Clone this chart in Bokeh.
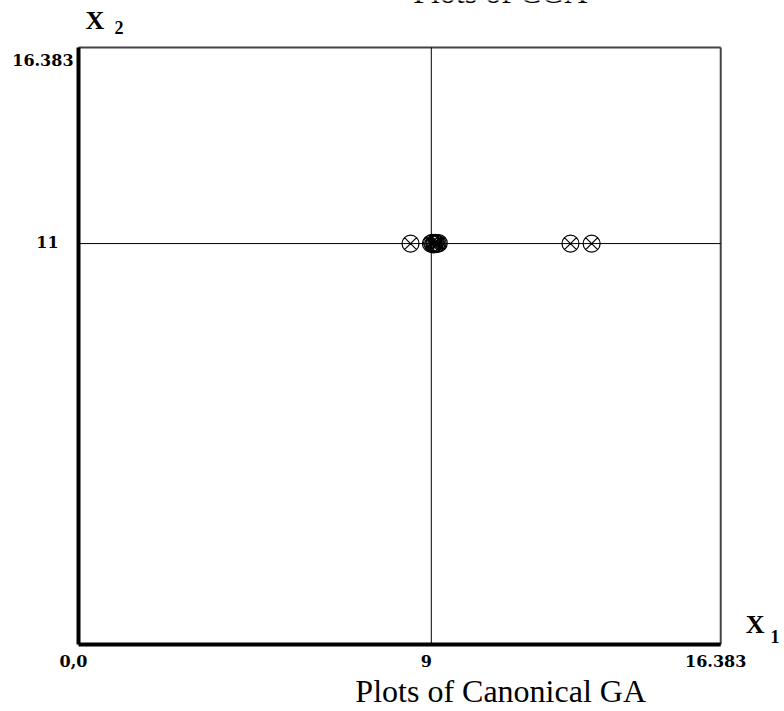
from bokeh.plotting import figure
from bokeh.models import Range1d
from bokeh.core.properties import value
from bokeh.embed import file_html
from bokeh.resources import INLINE

# ---- data ----
x_vals = [8.47, 8.99, 9.02, 9.05, 9.08, 9.10, 9.13, 9.16, 9.19, 12.55, 13.09]
y_vals = [11.0, 11.0, 11.02, 10.98, 11.0, 11.02, 10.99, 11.0, 11.01, 11.0, 11.0]
x_ticks = [0.0, 9.0, 16.383]
x_tick_labels = ["0,0", "9", "16.383"]
y_ticks = [11.0, 16.383]
y_tick_labels = ["11", "16.383"]
cross_x = 9.0
cross_y = 11.0
x_max = 16.383
y_max = 16.383
title_top = "Plots of CGA"
title_bottom = "Plots of Canonical GA"

SERIF = value("Liberation Serif")
TICKFONT = value("DejaVu Serif")

# the frame spans the whole canvas; the plot box is drawn in data space
p = figure(width=784, height=711, output_backend="svg", toolbar_location=None,
           x_range=Range1d(-1.99, 18.01), y_range=Range1d(-1.84, 17.67),
           min_border=0)
p.axis.visible = False
p.grid.visible = False
p.outline_line_color = None
p.background_fill_color = "white"
p.border_fill_color = "white"

# box: thin top and right edges, thick left and bottom axes
p.segment(x0=[0, x_max], y0=[y_max, 0], x1=[x_max, x_max], y1=[y_max, y_max],
          line_color="#444444", line_width=2)
p.segment(x0=[0, 0], y0=[0, 0], x1=[0, x_max], y1=[y_max, 0],
          line_color="black", line_width=4)

# crosshair
p.segment(x0=[cross_x, 0], y0=[0, cross_y], x1=[cross_x, x_max], y1=[y_max, cross_y],
          line_color="black", line_width=1)

# points
p.scatter(x_vals, y_vals, marker="circle_x", size=17, fill_color=None,
          line_color="black", line_width=1.2)

# tick labels
p.text(x=x_ticks, y=[0] * len(x_ticks), text=x_tick_labels, text_align="center",
       text_baseline="top", x_offset=-5, y_offset=11, text_font=TICKFONT,
       text_font_style="bold", text_font_size="16px", text_color="black")
p.text(x=[0] * len(y_ticks), y=y_ticks, text=y_tick_labels, text_align="right",
       text_baseline="middle",
       x_offset=[-5 if v == y_max else -20 for v in y_ticks],
       y_offset=[13 if v == y_max else -2 for v in y_ticks],
       text_font=TICKFONT, text_font_style="bold", text_font_size="16px", text_color="black")

# axis names
p.text(x=[0.18, 17.02], y=[17.12, 0.55], text=["X", "X"], text_font=SERIF,
       text_font_style="bold", text_font_size="26px", text_baseline="alphabetic",
       text_align="left", text_color="black")
p.text(x=[0.92, 17.65], y=[16.93, 0.22], text=["2", "1"], text_font=SERIF,
       text_font_style="bold", text_font_size="18px", text_baseline="alphabetic",
       text_align="left", text_color="black")

# titles
p.text(x=[10.76, 10.77], y=[17.90, -1.29], text=[title_top, title_bottom], text_font=SERIF,
       text_font_size="32px", text_align="center", text_baseline="alphabetic",
       text_color="black")

open("out.html", "w").write(file_html(p, INLINE))
